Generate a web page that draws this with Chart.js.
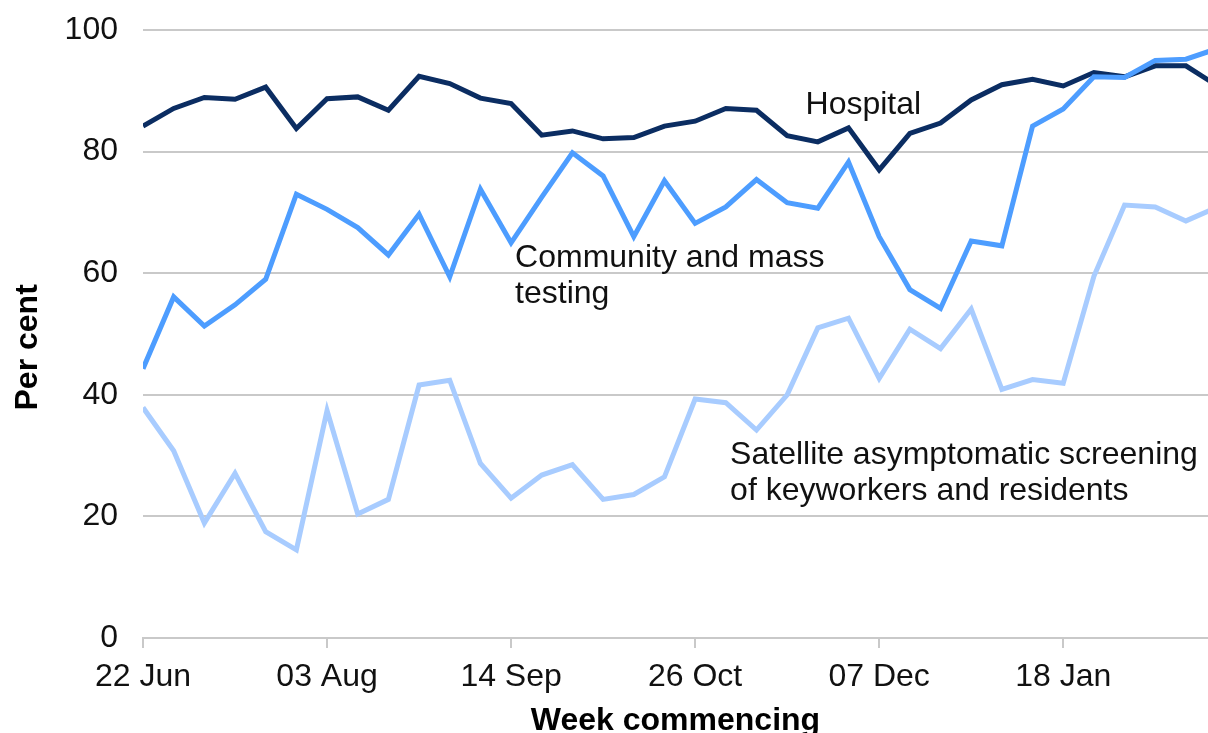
<!DOCTYPE html>
<html>
<head>
<meta charset="utf-8">
<script src="https://cdn.jsdelivr.net/npm/chart.js@4/dist/chart.umd.min.js"></script>
<style>
  html, body { margin: 0; padding: 0; background: #fff; }
  #wrap { width: 1208px; height: 733px; position: relative; }
</style>
</head>
<body>
<div id="wrap"><canvas id="chart"></canvas></div>
<script>
// week commencing, one entry per weekly point
const weeks = [
  "22 Jun", "29 Jun", "06 Jul", "13 Jul", "20 Jul", "27 Jul",
  "03 Aug", "10 Aug", "17 Aug", "24 Aug", "31 Aug", "07 Sep",
  "14 Sep", "21 Sep", "28 Sep", "05 Oct", "12 Oct", "19 Oct",
  "26 Oct", "02 Nov", "09 Nov", "16 Nov", "23 Nov", "30 Nov",
  "07 Dec", "14 Dec", "21 Dec", "28 Dec", "04 Jan", "11 Jan",
  "18 Jan", "25 Jan", "01 Feb", "08 Feb", "15 Feb", "22 Feb"
];

const hospital = [
  84.2, 87.1, 88.9, 88.6, 90.6, 83.8, 88.7, 89.0, 86.8, 92.4, 91.2, 88.8,
  87.9, 82.7, 83.4, 82.1, 82.3, 84.2, 85.0, 87.1, 86.8, 82.6, 81.6, 83.9,
  77.0, 83.0, 84.7, 88.5, 91.0, 91.9, 90.8, 93.0, 92.3, 94.1, 94.1, 90.9
];

const community = [
  44.3, 56.1, 51.3, 54.8, 59.0, 73.0, 70.5, 67.5, 63.0, 69.7, 59.4, 73.8,
  65.0, 72.5, 79.8, 76.0, 66.0, 75.2, 68.2, 70.9, 75.4, 71.6, 70.7, 78.3,
  66.0, 57.3, 54.2, 65.3, 64.5, 84.2, 87.0, 92.3, 92.2, 95.0, 95.2, 96.9
];

const satellite = [
  37.9, 30.8, 18.9, 27.1, 17.5, 14.5, 37.4, 20.4, 22.8, 41.6, 42.4, 28.7,
  23.0, 26.8, 28.5, 22.8, 23.6, 26.5, 39.3, 38.7, 34.2, 40.0, 51.0, 52.6,
  42.7, 50.8, 47.6, 54.1, 40.9, 42.5, 41.9, 59.5, 71.2, 70.9, 68.6, 70.8
];

const xTickEvery = 6;
const yTicks = [0, 20, 40, 60, 80, 100];

// series labels written on the plot: [text lines, x (week index), y (per cent)]
const seriesNotes = [
  [["Hospital"], 21.6, 87.7],
  [["Community and mass", "testing"], 12.13, 62.5],
  [["Satellite asymptomatic screening", "of keyworkers and residents"], 19.14, 30.1]
];

const FONT = "'Liberation Sans', Arial, sans-serif";
const gridGray = "#c9c9c9";

function points(values) {
  return values.map((v, i) => ({ x: i, y: v }));
}

const notesPlugin = {
  id: "notes",
  afterDatasetsDraw(chart) {
    const { ctx, scales } = chart;
    ctx.save();
    ctx.fillStyle = "#111";
    ctx.font = "32px " + FONT;
    ctx.textAlign = "left";
    ctx.textBaseline = "middle";
    seriesNotes.forEach(([lines, xv, yv]) => {
      const x = scales.x.getPixelForValue(xv);
      const y = scales.y.getPixelForValue(yv);
      lines.forEach((t, k) => ctx.fillText(t, x, y + k * 36));
    });
    ctx.restore();
  }
};

new Chart(document.getElementById("chart"), {
  type: "line",
  data: {
    datasets: [
      { label: "Hospital", data: points(hospital), borderColor: "#0b2d62", order: 2 },
      { label: "Community and mass testing", data: points(community), borderColor: "#4d9dff", order: 1 },
      { label: "Satellite asymptomatic screening of keyworkers and residents", data: points(satellite), borderColor: "#a8ccff", order: 3 }
    ]
  },
  options: {
    responsive: true,
    maintainAspectRatio: false,
    animation: false,
    layout: { padding: { top: 30, right: 0, bottom: 0, left: 0 } },
    elements: {
      line: { borderWidth: 5, tension: 0, borderJoinStyle: "miter", borderCapStyle: "butt" },
      point: { radius: 0 }
    },
    plugins: { legend: { display: false }, tooltip: { enabled: false } },
    scales: {
      x: {
        type: "linear",
        min: 0,
        max: 34.72,
        afterBuildTicks: (scale) => {
          scale.ticks = weeks
            .map((w, i) => i)
            .filter((i) => i % xTickEvery === 0 && i <= scale.max)
            .map((i) => ({ value: i }));
        },
        afterFit: (scale) => { scale.height = 95; },
        ticks: {
          color: "#111",
          font: { family: FONT, size: 32 },
          padding: 10,
          maxRotation: 0,
          autoSkip: false,
          callback: (v) => weeks[v]
        },
        grid: { drawOnChartArea: false, drawTicks: true, tickLength: 10, color: gridGray, lineWidth: 2 },
        border: { display: true, color: gridGray, width: 2 },
        title: {
          display: true,
          text: "Week commencing",
          color: "#000",
          font: { family: FONT, size: 32, weight: "bold", lineHeight: 0.8 },
          padding: { top: 0, bottom: -1 }
        }
      },
      y: {
        min: 0,
        max: 100,
        afterBuildTicks: (scale) => {
          scale.ticks = yTicks.map((v) => ({ value: v }));
        },
        afterFit: (scale) => {
          scale.width = 143;
          scale.paddingTop = 0;
          scale.paddingBottom = 0;
        },
        ticks: {
          color: "#111",
          font: { family: FONT, size: 32 },
          padding: 25
        },
        grid: { drawTicks: false, color: gridGray, lineWidth: 2 },
        border: { display: false },
        title: {
          display: true,
          text: "Per cent   ",
          color: "#000",
          font: { family: FONT, size: 32, weight: "bold" },
          padding: { top: 9, bottom: 0 }
        }
      }
    }
  },
  plugins: [notesPlugin]
});
</script>
</body>
</html>
